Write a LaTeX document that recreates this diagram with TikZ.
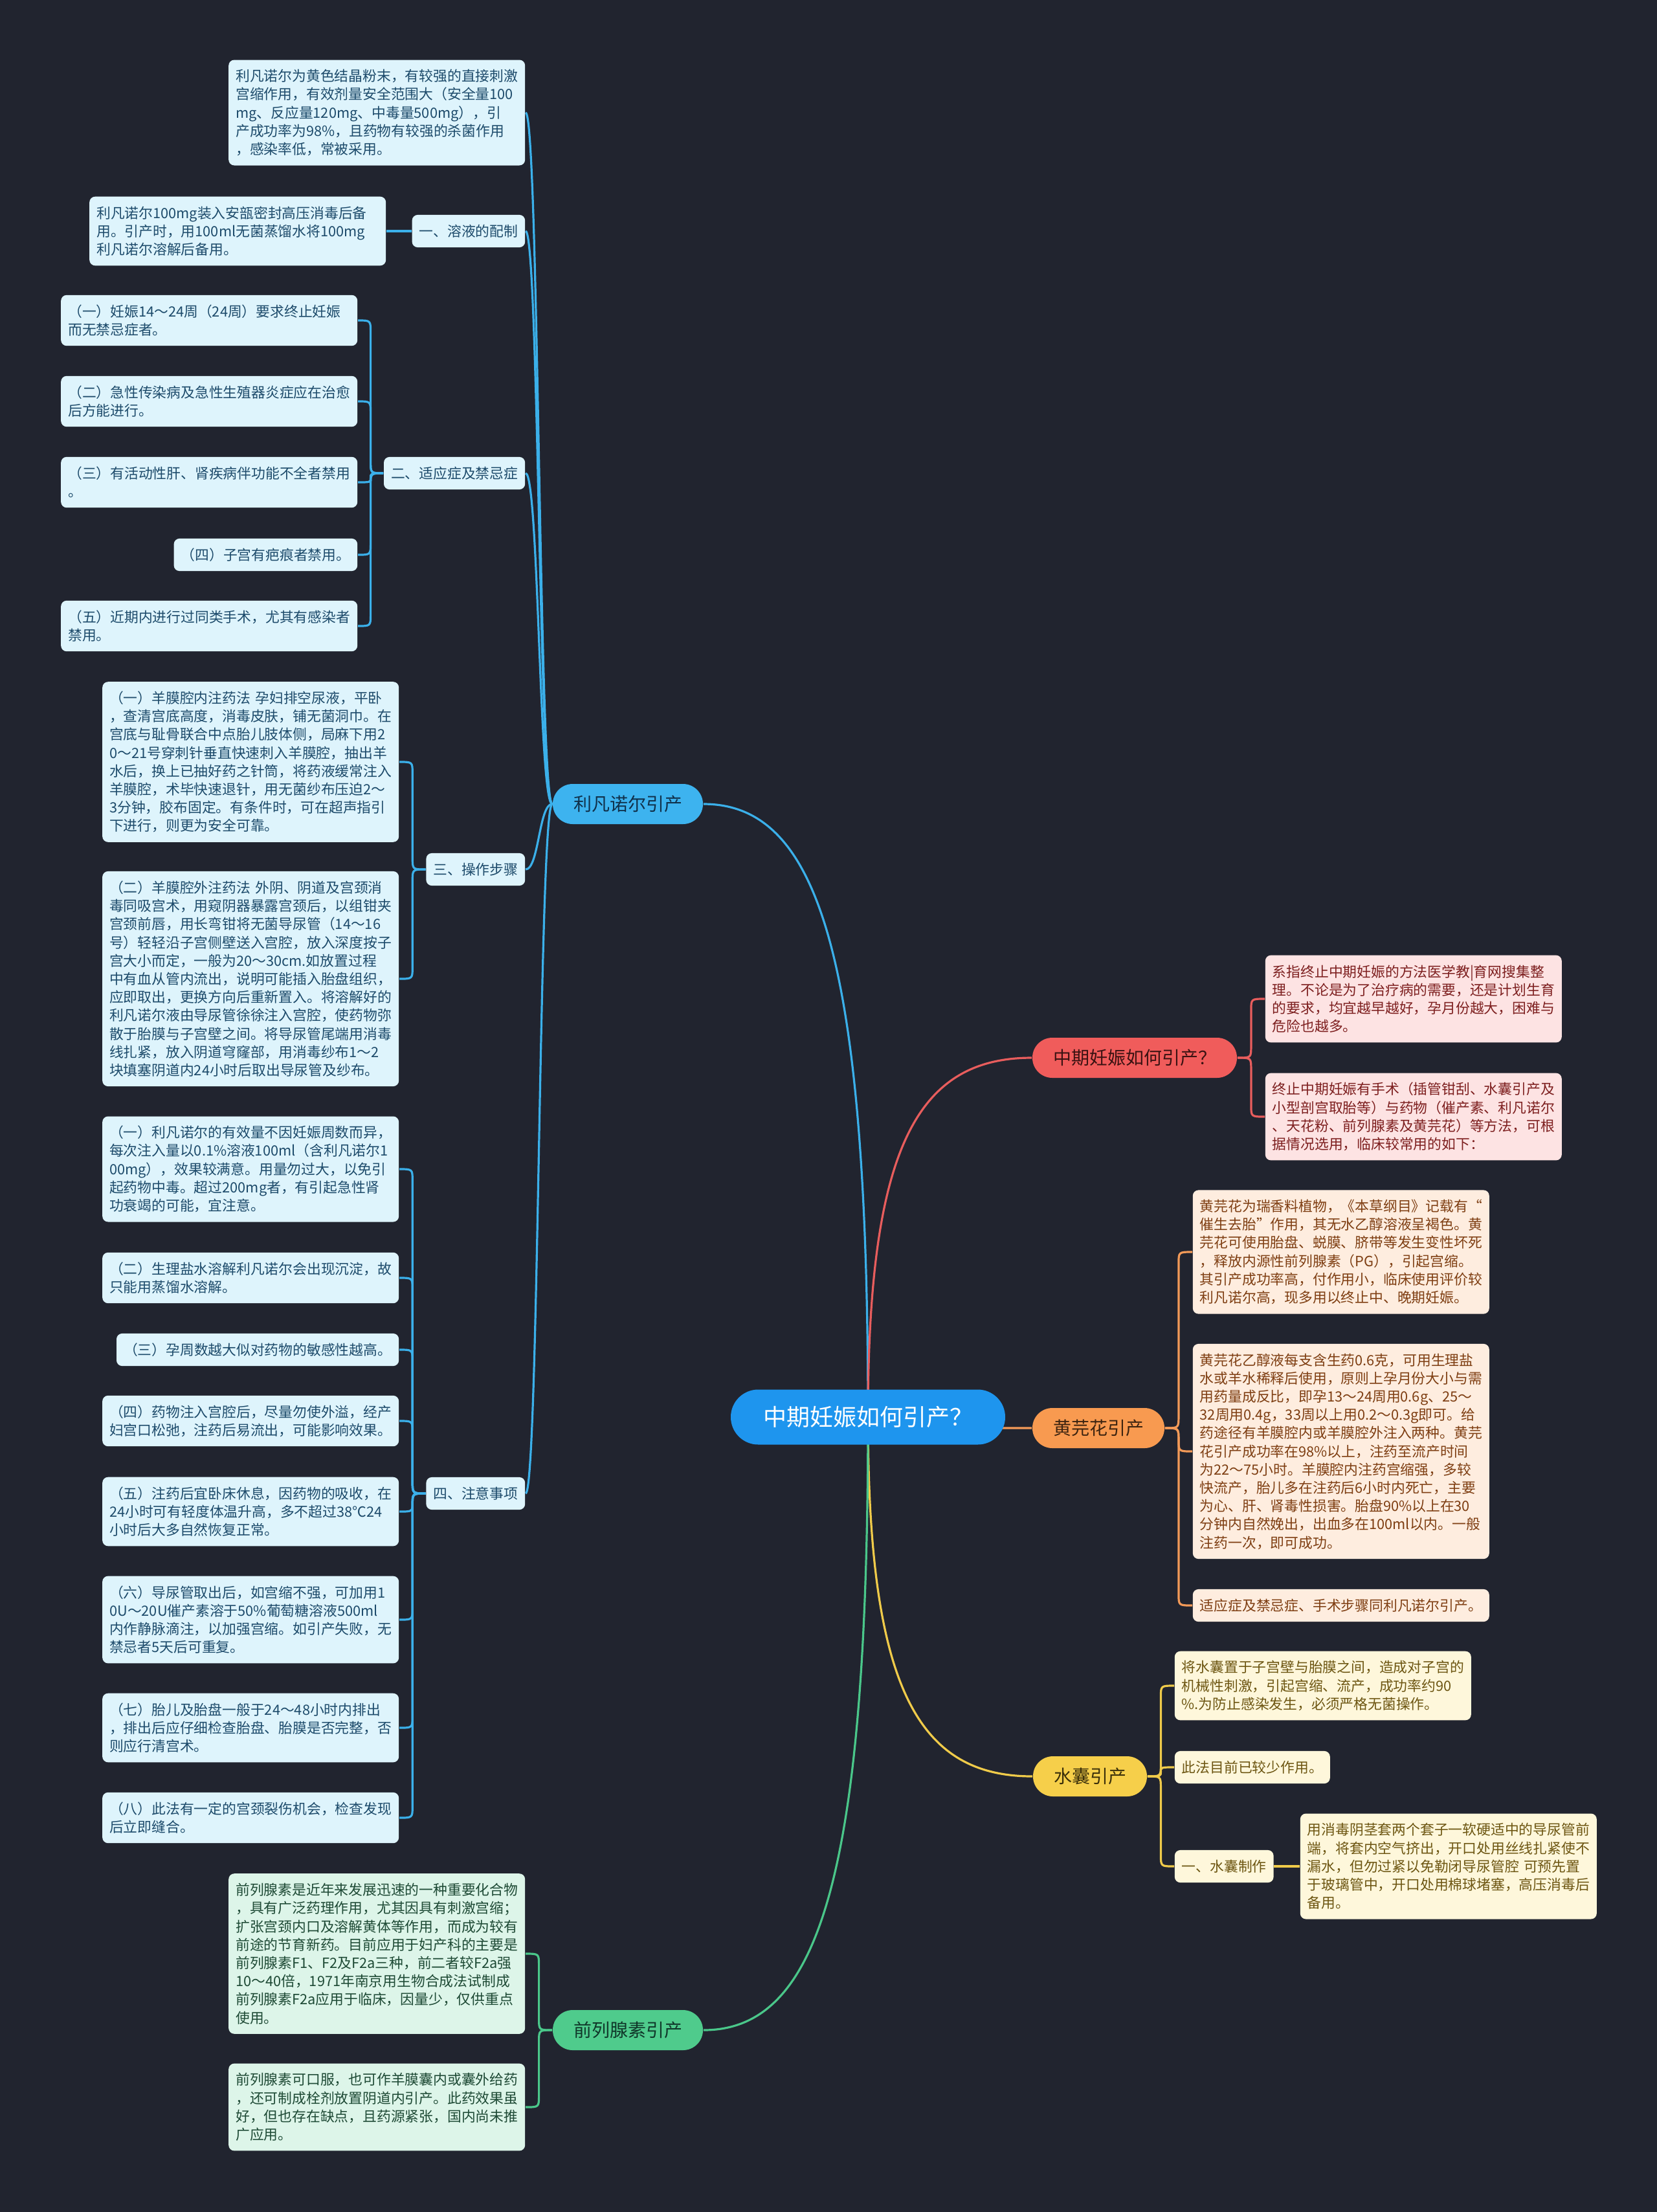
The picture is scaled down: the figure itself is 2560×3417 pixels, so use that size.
\documentclass[tikz,border=0pt]{standalone}
\usepackage{fontspec}
\setmainfont{Noto Sans CJK SC}
\usetikzlibrary{calc}
\definecolor{bgc}{HTML}{21242F}
\definecolor{rootfill}{HTML}{1E95EE}
\definecolor{bline}{HTML}{3BB0EA}
\definecolor{lfill}{HTML}{3DB3EF}
\definecolor{ltext}{HTML}{10304A}
\definecolor{bleaffill}{HTML}{DEF4FC}
\definecolor{bleaftext}{HTML}{1D4B6B}
\definecolor{rline}{HTML}{E85D5D}
\definecolor{rfill}{HTML}{F05C5B}
\definecolor{rtext}{HTML}{3A1212}
\definecolor{rleaffill}{HTML}{FDE3E3}
\definecolor{rleaftext}{HTML}{7D1F1F}
\definecolor{oline}{HTML}{F39A58}
\definecolor{hfill}{HTML}{F89A50}
\definecolor{htext}{HTML}{3D2410}
\definecolor{oleaffill}{HTML}{FEEDDF}
\definecolor{oleaftext}{HTML}{7E3E12}
\definecolor{yline}{HTML}{F0CB4A}
\definecolor{sfill}{HTML}{F6CF4A}
\definecolor{stext}{HTML}{3A2F0A}
\definecolor{yleaffill}{HTML}{FEF7DB}
\definecolor{yleaftext}{HTML}{6D5612}
\definecolor{gline}{HTML}{4AC78A}
\definecolor{qfill}{HTML}{4FCB8C}
\definecolor{qtext}{HTML}{10382A}
\definecolor{gleaffill}{HTML}{DDF5E9}
\definecolor{gleaftext}{HTML}{1E4A35}
\pgfdeclarelayer{back}
\pgfsetlayers{back,main}
\newcommand{\mmS}[3]{\draw[#1] let \p1=(#2), \p2=(#3) in (#2) .. controls ({0.5*\x1+0.5*\x2},\y1) and ({0.5*\x1+0.5*\x2},\y2) .. (#3);}
\newcommand{\mmR}[3]{\draw[#1] let \p1=(#2), \p2=(#3) in (#2) .. controls (\x1,{0.25*\y1+0.75*\y2}) and ({0.3*\x2+0.7*\x1},\y2) .. (#3);}
\newcommand{\mmB}[3]{\draw[#1] let \p1=(#2), \p2=(#3), \n1={0.5*\x1+0.5*\x2}, \n2={min(4.5,abs(\y2-\y1)/2)*sign(\y2-\y1)} in (#2) .. controls ({\n1*1pt},\y1) .. ({\n1*1pt},{\y1+\n2*1pt}) -- ({\n1*1pt},{\y2-\n2*1pt}) .. controls ({\n1*1pt},\y2) .. (#3);}
\begin{document}
\begin{tikzpicture}[x=0.25pt,y=-0.25pt,
  leafbase/.style={rounded corners=2.2pt, inner xsep=2.75pt, inner ysep=0.5pt, align=left, font=\fontsize{5.45}{7.05}\selectfont},
  nl/.style={minimum height={(7.05*#1+5.5)*1pt}},
  wide/.style={text width=109pt},
  bleaf/.style={leafbase, fill=bleaffill, text=bleaftext},
  rleaf/.style={leafbase, fill=rleaffill, text=rleaftext},
  oleaf/.style={leafbase, fill=oleaffill, text=oleaftext},
  yleaf/.style={leafbase, fill=yleaffill, text=yleaftext},
  gleaf/.style={leafbase, fill=gleaffill, text=gleaftext},
  pill/.style={rounded corners=7.7pt, minimum height=15.5pt, inner xsep=8pt, inner ysep=0pt, font=\fontsize{7}{8}\selectfont},
  rootst/.style={rounded corners=10.6pt, minimum width=106pt, minimum height=21.25pt, fill=rootfill, text=white, font=\fontsize{9}{10}\selectfont},
  bl/.style={draw=bline, line width=0.8pt},
  rl/.style={draw=rline, line width=0.8pt},
  ol/.style={draw=oline, line width=0.8pt},
  yl/.style={draw=yline, line width=0.8pt},
  gl/.style={draw=gline, line width=0.8pt}]
\useasboundingbox (0,0) rectangle (2560,3417);

% root and main branches
\node[rootst] (root) at (1341,2189) {中期妊娠如何引产？};
\node[pill, fill=lfill, text=ltext] (lf) at (970,1242) {利凡诺尔引产};
\node[pill, fill=rfill, text=rtext] (rq) at (1753,1634) {中期妊娠如何引产？};
\node[pill, fill=hfill, text=htext] (hh) at (1697,2206) {黄芫花引产};
\node[pill, fill=sfill, text=stext] (sn) at (1684,2744) {水囊引产};
\node[pill, fill=qfill, text=qtext] (qq) at (970,3136) {前列腺素引产};

% 利凡诺尔引产 subtree
\node[bleaf, wide, nl=5, anchor=east] (b0) at (812,174) {利凡诺尔为黄色结晶粉末，有较强的直接刺激\\宫缩作用，有效剂量安全范围大（安全量100\\mg、反应量120mg、中毒量500mg），引\\产成功率为98\%，且药物有较强的杀菌作用\\，感染率低，常被采用。};
\node[bleaf, nl=1, anchor=east] (b1) at (812,357) {一、溶液的配制};
\node[bleaf, wide, nl=3, anchor=east] (b11) at (597,357) {利凡诺尔100mg装入安瓿密封高压消毒后备\\用。引产时，用100ml无菌蒸馏水将100mg\\利凡诺尔溶解后备用。};
\node[bleaf, nl=1, anchor=east] (b2) at (812,731) {二、适应症及禁忌症};
\node[bleaf, wide, nl=2, anchor=east] (b21) at (553,495) {（一）妊娠14～24周（24周）要求终止妊娠\\而无禁忌症者。};
\node[bleaf, wide, nl=2, anchor=east] (b22) at (553,620) {（二）急性传染病及急性生殖器炎症应在治愈\\后方能进行。};
\node[bleaf, wide, nl=2, anchor=east] (b23) at (553,745) {（三）有活动性肝、肾疾病伴功能不全者禁用\\。};
\node[bleaf, nl=1, anchor=east] (b24) at (553,857) {（四）子宫有疤痕者禁用。};
\node[bleaf, wide, nl=2, anchor=east] (b25) at (553,967) {（五）近期内进行过同类手术，尤其有感染者\\禁用。};
\node[bleaf, nl=1, anchor=east] (b3) at (812,1343) {三、操作步骤};
\node[bleaf, wide, nl=8, anchor=east] (b31) at (617,1177) {（一）羊膜腔内注药法~孕妇排空尿液，平卧\\，查清宫底高度，消毒皮肤，铺无菌洞巾。在\\宫底与耻骨联合中点胎儿肢体侧，局麻下用2\\0～21号穿刺针垂直快速刺入羊膜腔，抽出羊\\水后，换上已抽好药之针筒，将药液缓常注入\\羊膜腔，术毕快速退针，用无菌纱布压迫2～\\3分钟，胶布固定。有条件时，可在超声指引\\下进行，则更为安全可靠。};
\node[bleaf, wide, nl=11, anchor=east] (b32) at (617,1512) {（二）羊膜腔外注药法~外阴、阴道及宫颈消\\毒同吸宫术，用窥阴器暴露宫颈后，以组钳夹\\宫颈前唇，用长弯钳将无菌导尿管（14～16\\号）轻轻沿子宫侧壁送入宫腔，放入深度按子\\宫大小而定，一般为20～30cm.如放置过程\\中有血从管内流出，说明可能插入胎盘组织，\\应即取出，更换方向后重新置入。将溶解好的\\利凡诺尔液由导尿管徐徐注入宫腔，使药物弥\\散于胎膜与子宫壁之间。将导尿管尾端用消毒\\线扎紧，放入阴道穹窿部，用消毒纱布1～2\\块填塞阴道内24小时后取出导尿管及纱布。};
\node[bleaf, nl=1, anchor=east] (b4) at (812,2307) {四、注意事项};
\node[bleaf, wide, nl=5, anchor=east] (b41) at (617,1806) {（一）利凡诺尔的有效量不因妊娠周数而异，\\每次注入量以0.1\%溶液100ml（含利凡诺尔1\\00mg），效果较满意。用量勿过大，以免引\\起药物中毒。超过200mg者，有引起急性肾\\功衰竭的可能，宜注意。};
\node[bleaf, wide, nl=2, anchor=east] (b42) at (617,1974) {（二）生理盐水溶解利凡诺尔会出现沉淀，故\\只能用蒸馏水溶解。};
\node[bleaf, nl=1, anchor=east] (b43) at (617,2085) {（三）孕周数越大似对药物的敏感性越高。};
\node[bleaf, wide, nl=2, anchor=east] (b44) at (617,2195) {（四）药物注入宫腔后，尽量勿使外溢，经产\\妇宫口松弛，注药后易流出，可能影响效果。};
\node[bleaf, wide, nl=3, anchor=east] (b45) at (617,2335) {（五）注药后宜卧床休息，因药物的吸收，在\\24小时可有轻度体温升高，多不超过38℃24\\小时后大多自然恢复正常。};
\node[bleaf, wide, nl=4, anchor=east] (b46) at (617,2502) {（六）导尿管取出后，如宫缩不强，可加用1\\0U～20U催产素溶于50\%葡萄糖溶液500ml\\内作静脉滴注，以加强宫缩。如引产失败，无\\禁忌者5天后可重复。};
\node[bleaf, wide, nl=3, anchor=east] (b47) at (617,2669) {（七）胎儿及胎盘一般于24～48小时内排出\\，排出后应仔细检查胎盘、胎膜是否完整，否\\则应行清宫术。};
\node[bleaf, wide, nl=2, anchor=east] (b48) at (617,2808) {（八）此法有一定的宫颈裂伤机会，检查发现\\后立即缝合。};

% 中期妊娠如何引产 subtree
\node[rleaf, wide, nl=4, anchor=west] (r1) at (1954,1543) {系指终止中期妊娠的方法医学教|育网搜集整\\理。不论是为了治疗病的需要，还是计划生育\\的要求，均宜越早越好，孕月份越大，困难与\\危险也越多。};
\node[rleaf, wide, nl=4, anchor=west] (r2) at (1954,1725) {终止中期妊娠有手术（插管钳刮、水囊引产及\\小型剖宫取胎等）与药物（催产素、利凡诺尔\\、天花粉、前列腺素及黄芫花）等方法，可根\\据情况选用，临床较常用的如下：};

% 黄芫花引产 subtree
\node[oleaf, wide, nl=6, anchor=west] (o1) at (1842,1934) {黄芫花为瑞香料植物，《本草纲目》记载有“\\催生去胎”作用，其无水乙醇溶液呈褐色。黄\\芫花可使用胎盘、蜕膜、脐带等发生变性坏死\\，释放内源性前列腺素（PG），引起宫缩。\\其引产成功率高，付作用小，临床使用评价较\\利凡诺尔高，现多用以终止中、晚期妊娠。};
\node[oleaf, wide, nl=11, anchor=west] (o2) at (1842,2242) {黄芫花乙醇液每支含生药0.6克，可用生理盐\\水或羊水稀释后使用，原则上孕月份大小与需\\用药量成反比，即孕13～24周用0.6g、25～\\32周用0.4g，33周以上用0.2～0.3g即可。给\\药途径有羊膜腔内或羊膜腔外注入两种。黄芫\\花引产成功率在98\%以上，注药至流产时间\\为22～75小时。羊膜腔内注药宫缩强，多较\\快流产，胎儿多在注药后6小时内死亡，主要\\为心、肝、肾毒性损害。胎盘90\%以上在30\\分钟内自然娩出，出血多在100ml以内。一般\\注药一次，即可成功。};
\node[oleaf, wide, nl=1, anchor=west] (o3) at (1842,2480) {适应症及禁忌症、手术步骤同利凡诺尔引产。};

% 水囊引产 subtree
\node[yleaf, wide, nl=3, anchor=west] (y1) at (1814,2604) {将水囊置于子宫壁与胎膜之间，造成对子宫的\\机械性刺激，引起宫缩、流产，成功率约90\\\%.为防止感染发生，必须严格无菌操作。};
\node[yleaf, nl=1, anchor=west] (y2) at (1814,2730) {此法目前已较少作用。};
\node[yleaf, nl=1, anchor=west] (y3) at (1814,2883) {一、水囊制作};
\node[yleaf, wide, nl=5, anchor=west] (y31) at (2008,2883) {用消毒阴茎套两个套子一软硬适中的导尿管前\\端，将套内空气挤出，开口处用丝线扎紧使不\\漏水，但勿过紧以免勒闭导尿管腔~可预先置\\于玻璃管中，开口处用棉球堵塞，高压消毒后\\备用。};

% 前列腺素引产 subtree
\node[gleaf, wide, nl=8, anchor=east] (g1) at (812,3018) {前列腺素是近年来发展迅速的一种重要化合物\\，具有广泛药理作用，尤其因具有刺激宫缩；\\扩张宫颈内口及溶解黄体等作用，而成为较有\\前途的节育新药。目前应用于妇产科的主要是\\前列腺素F1、F2及F2a三种，前二者较F2a强\\10～40倍，1971年南京用生物合成法试制成\\前列腺素F2a应用于临床，因量少，仅供重点\\使用。};
\node[gleaf, wide, nl=4, anchor=east] (g2) at (812,3255) {前列腺素可口服，也可作羊膜囊内或囊外给药\\，还可制成栓剂放置阴道内引产。此药效果虽\\好，但也存在缺点，且药源紧张，国内尚未推\\广应用。};

\begin{pgfonlayer}{back}
\fill[bgc] (0,0) rectangle (2560,3417);
\mmR{bl}{root.center}{lf.east}
\mmR{rl}{root.center}{rq.west}
\mmR{ol}{root.center}{hh.west}
\mmR{yl}{root.center}{sn.west}
\mmR{gl}{root.center}{qq.east}
\mmS{bl}{lf.west}{b0.east}
\mmS{bl}{lf.west}{b1.east}
\mmS{bl}{lf.west}{b2.east}
\mmS{bl}{lf.west}{b3.east}
\mmS{bl}{lf.west}{b4.east}
\draw[bl] (b1.west) -- (b11.east);
\mmB{bl}{b2.west}{b21.east}
\mmB{bl}{b2.west}{b22.east}
\mmB{bl}{b2.west}{b23.east}
\mmB{bl}{b2.west}{b24.east}
\mmB{bl}{b2.west}{b25.east}
\mmB{bl}{b3.west}{b31.east}
\mmB{bl}{b3.west}{b32.east}
\mmB{bl}{b4.west}{b41.east}
\mmB{bl}{b4.west}{b42.east}
\mmB{bl}{b4.west}{b43.east}
\mmB{bl}{b4.west}{b44.east}
\mmB{bl}{b4.west}{b45.east}
\mmB{bl}{b4.west}{b46.east}
\mmB{bl}{b4.west}{b47.east}
\mmB{bl}{b4.west}{b48.east}
\mmB{rl}{rq.east}{r1.west}
\mmB{rl}{rq.east}{r2.west}
\mmB{ol}{hh.east}{o1.west}
\mmB{ol}{hh.east}{o2.west}
\mmB{ol}{hh.east}{o3.west}
\mmB{yl}{sn.east}{y1.west}
\mmB{yl}{sn.east}{y2.west}
\mmB{yl}{sn.east}{y3.west}
\draw[yl] (y3.east) -- (y31.west);
\mmB{gl}{qq.west}{g1.east}
\mmB{gl}{qq.west}{g2.east}
\end{pgfonlayer}
\end{tikzpicture}
\end{document}
